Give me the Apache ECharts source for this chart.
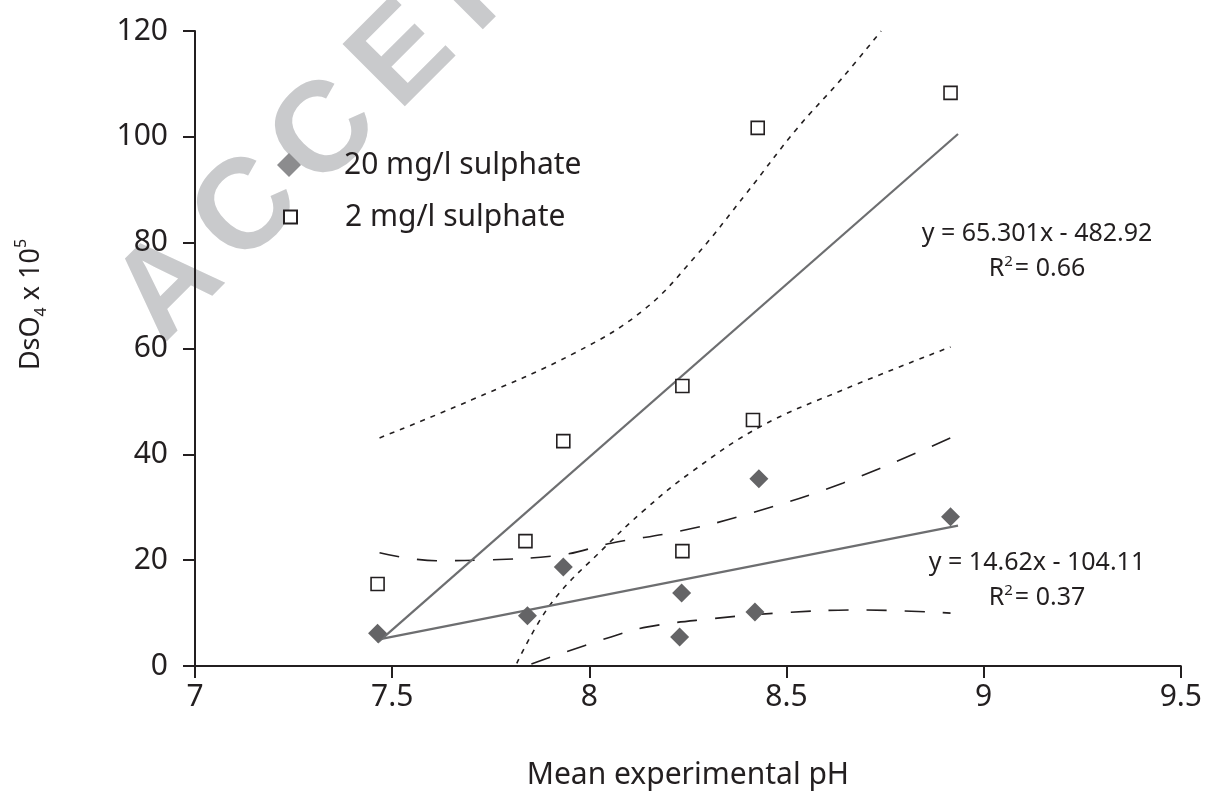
<!DOCTYPE html>
<html>
<head>
<meta charset="utf-8">
<script src="https://cdn.jsdelivr.net/npm/echarts@6/dist/echarts.min.js"></script>
<style>
html,body{margin:0;padding:0;background:#fff;}
#chart{width:1205px;height:803px;}
</style>
</head>
<body>
<div id="chart"></div>
<script>
// ---- data ----
const seriesNames = ['20 mg/l sulphate', '2 mg/l sulphate'];
const xTickLabels = ['7', '7.5', '8', '8.5', '9', '9.5'];
const yTickLabels = ['0', '20', '40', '60', '80', '100', '120'];

// 20 mg/l sulphate (grey diamonds)
const ph20 = [7.463, 7.843, 7.934, 8.234, 8.229, 8.420, 8.430, 8.916];
const d20  = [6.2, 9.5, 18.7, 13.8, 5.5, 10.2, 35.4, 28.2];
// 2 mg/l sulphate (open squares)
const ph2 = [7.463, 7.838, 7.934, 8.236, 8.236, 8.427, 8.415, 8.916];
const d2  = [15.5, 23.6, 42.5, 52.9, 21.7, 101.7, 46.5, 108.3];

// linear trend lines: slope, intercept, x-range
const trend2  = {slope: 65.301, intercept: -482.92, r2: '0.66'};
const trend20 = {slope: 14.62,  intercept: -104.11, r2: '0.37'};
const trendRange = [7.463, 8.935];

// confidence bands, 2 mg/l (short dashes)
const upper2X = [7.468, 7.702, 7.964, 8.138, 8.27, 8.40, 8.526, 8.64, 8.74];
const upper2Y = [43.1, 50.3, 59.2, 67.3, 77.5, 89.5, 101.5, 111.0, 120.0];
const lower2X = [7.816, 7.904, 8.04, 8.14, 8.256, 8.433, 8.644, 8.916];
const lower2Y = [0.5, 11.9, 22.5, 29.5, 36.5, 45.2, 52.2, 60.3];
// confidence bands, 20 mg/l (long dashes)
const upper20X = [7.468, 7.612, 7.72, 7.93, 8.055, 8.23, 8.392, 8.644, 8.916];
const upper20Y = [21.4, 19.9, 20.0, 21.0, 23.2, 25.5, 28.5, 34.6, 43.1];
const lower20X = [7.853, 8.055, 8.148, 8.307, 8.475, 8.684, 8.916];
const lower20Y = [0.4, 5.5, 7.4, 8.9, 10.0, 10.6, 10.0];

// watermark letters
const watermarkLetters = ['A', 'C', 'C', 'E', 'P', 'T'];

// ---- build ----
const zip = (xs, ys) => xs.map((x, i) => [x, ys[i]]);
const trendData = t => trendRange.map(x => [x, t.slope * x + t.intercept]);

const FONT = '"Noto Sans", "Open Sans", sans-serif';
const TXT = '#231f20';

const chart = echarts.init(document.getElementById('chart'), null, {renderer: 'canvas'});

const wmStart = [170, 288], wmStep = [78, -77];
const watermark = watermarkLetters.map((ch, i) => ({
  type: 'text',
  x: wmStart[0] + wmStep[0] * i,
  y: wmStart[1] + wmStep[1] * i,
  rotation: Math.PI / 4,
  z: -10,
  silent: true,
  style: {
    text: ch,
    font: 'bold 128px "Liberation Sans", Arial, sans-serif',
    fill: '#c9cacc',
    align: 'center',
    verticalAlign: 'middle'
  }
}));

function eqText(t, cx, cy) {
  const s = 'y = ' + t.slope + 'x - ' + Math.abs(t.intercept).toFixed(2);
  return [
    {type: 'text', x: cx, y: cy, z: 10,
     style: {text: s, font: '25px ' + FONT, fill: TXT, align: 'center', verticalAlign: 'middle'}},
    {type: 'text', x: cx, y: cy + 35, z: 10,
     style: {text: '{a|R}{s|2}{a|= ' + t.r2 + '}', align: 'center', verticalAlign: 'middle',
       rich: {a: {font: '25px ' + FONT, fill: TXT, lineHeight: 30},
              s: {font: '15px ' + FONT, fill: TXT, lineHeight: 30, verticalAlign: 'top', padding: [0, 2, 0, 0]}}}}
  ];
}

const legendText = {fontFamily: FONT, fontSize: 30, color: TXT, lineHeight: 34};

const option = {
  animation: false,
  backgroundColor: '#ffffff',
  grid: {left: 195, right: 18, top: 31, bottom: 137, containLabel: false},
  legend: [
    {
      data: [{name: seriesNames[0], icon: 'diamond', itemStyle: {color: '#8c8c8e'}}],
      left: 272, top: 143, itemWidth: 24, itemHeight: 24,
      textStyle: Object.assign({padding: [0, 0, 0, 38]}, legendText),
      selectedMode: false
    },
    {
      data: [{name: seriesNames[1], icon: 'rect'}],
      left: 278, top: 195, itemWidth: 13, itemHeight: 13,
      textStyle: Object.assign({padding: [0, 0, 0, 43]}, legendText),
      selectedMode: false
    }
  ],
  xAxis: {
    type: 'value', min: 7, max: 9.5, interval: 0.5,
    name: 'Mean experimental pH', nameLocation: 'middle', nameGap: 94,
    nameTextStyle: {fontFamily: FONT, fontSize: 30, color: TXT},
    axisLine: {show: true, lineStyle: {color: '#231f20', width: 2}},
    axisTick: {show: true, length: 12, lineStyle: {color: '#231f20', width: 2}},
    axisLabel: {fontFamily: FONT, fontSize: 30, color: TXT, margin: 16,
      formatter: v => xTickLabels[Math.round((v - 7) / 0.5)]},
    splitLine: {show: false}
  },
  yAxis: {
    type: 'value', min: 0, max: 120, interval: 20,
    name: '{m|DsO}{sub|4}{m| x 10}{sup|5}', nameLocation: 'middle', nameGap: 146, nameRotate: 90,
    nameTextStyle: {
      fontFamily: FONT, fontSize: 27, color: TXT, padding: [0, 0, 0, 88],
      rich: {
        m: {fontFamily: FONT, fontSize: 27, color: TXT, lineHeight: 36},
        sub: {fontFamily: FONT, fontSize: 16, color: TXT, lineHeight: 36, verticalAlign: 'bottom'},
        sup: {fontFamily: FONT, fontSize: 16, color: TXT, lineHeight: 36, verticalAlign: 'top'}
      }
    },
    axisLine: {show: true, lineStyle: {color: '#231f20', width: 2}},
    axisTick: {show: true, length: 12, lineStyle: {color: '#231f20', width: 2}},
    axisLabel: {fontFamily: FONT, fontSize: 30, color: TXT, margin: 27,
      formatter: v => yTickLabels[Math.round(v / 20)]},
    splitLine: {show: false}
  },
  graphic: [].concat(watermark, eqText(trend2, 1037, 234), eqText(trend20, 1037, 563)),
  series: [
    {name: 'upper band 2', type: 'line', data: zip(upper2X, upper2Y), smooth: 0.4, symbol: 'none', z: 3,
     lineStyle: {color: '#231f20', width: 1.6, type: [5, 6]}},
    {name: 'lower band 2', type: 'line', data: zip(lower2X, lower2Y), smooth: 0.4, symbol: 'none', z: 3,
     lineStyle: {color: '#231f20', width: 1.6, type: [5, 6]}},
    {name: 'upper band 20', type: 'line', data: zip(upper20X, upper20Y), smooth: 0.4, symbol: 'none', z: 3,
     lineStyle: {color: '#231f20', width: 1.6, type: [20, 18]}},
    {name: 'lower band 20', type: 'line', data: zip(lower20X, lower20Y), smooth: 0.4, symbol: 'none', z: 3,
     lineStyle: {color: '#231f20', width: 1.6, type: [20, 18]}},
    {name: 'trend 2', type: 'line', data: trendData(trend2), symbol: 'none', z: 4,
     lineStyle: {color: '#6d6e70', width: 2.2}},
    {name: 'trend 20', type: 'line', data: trendData(trend20), symbol: 'none', z: 4,
     lineStyle: {color: '#6d6e70', width: 2.2}},
    {name: seriesNames[0], type: 'scatter', data: zip(ph20, d20), symbol: 'diamond', symbolSize: 19, z: 5,
     itemStyle: {color: '#646466', opacity: 1}},
    {name: seriesNames[1], type: 'scatter', data: zip(ph2, d2), symbol: 'rect', symbolSize: 13, z: 5,
     itemStyle: {color: '#ffffff', borderColor: '#231f20', borderWidth: 1.6, opacity: 1}}
  ]
};
chart.setOption(option);
</script>
</body>
</html>
